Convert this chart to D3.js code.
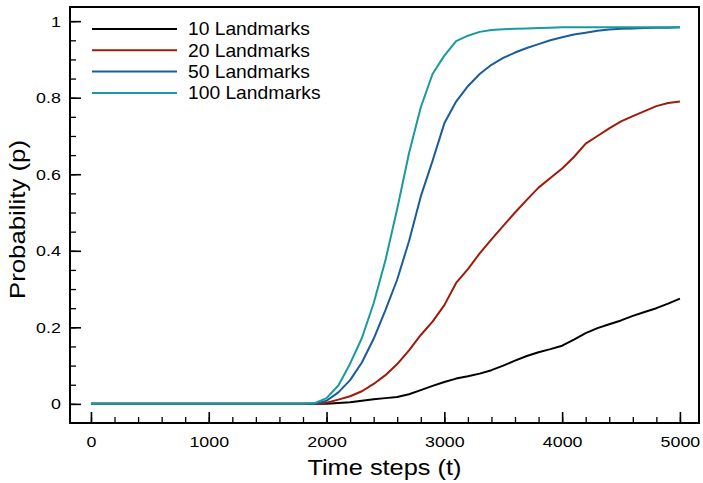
<!DOCTYPE html>
<html>
<head>
<meta charset="utf-8">
<script src="https://cdn.jsdelivr.net/npm/d3@7"></script>
<style>
    body { margin: 0; background: #fff; }
    svg text { font-family: "Liberation Sans", Arial, Helvetica, sans-serif; fill: #000; }
    .line { fill: none; stroke-width: 2; stroke-linejoin: round; }
</style>
</head>
<body>
<div id="graph"></div>
<script>
/*
    Probability vs time steps, one curve per landmark count
*/

// time steps, every 100
var steps = d3.range(0, 5001, 100)

var seriesNames = [ "10 Landmarks", "20 Landmarks", "50 Landmarks", "100 Landmarks" ]
var seriesColors = [ "#000000", "#a01a0a", "#1a5c9c", "#1a9a9a" ]

// values, t = 0 .. 5000 step 100
var zeros = [0,0,0,0,0, 0,0,0,0,0, 0,0,0,0,0, 0,0,0,0]   // t = 0 .. 1800

var p10 = zeros.concat([0, 0, 0.002, 0.004, 0.008, 0.012, 0.015, 0.018, 0.025, 0.036, 0.047,
    0.057, 0.066, 0.072, 0.079, 0.088, 0.100, 0.113, 0.125, 0.135, 0.143,
    0.152, 0.168, 0.185, 0.198, 0.208, 0.218, 0.230, 0.240, 0.250, 0.262, 0.275])

var p20 = zeros.concat([0, 0.003, 0.011, 0.020, 0.033, 0.052, 0.075, 0.104, 0.140, 0.180, 0.215,
    0.258, 0.316, 0.352, 0.393, 0.430, 0.465, 0.500, 0.533, 0.565, 0.590,
    0.615, 0.645, 0.680, 0.700, 0.720, 0.738, 0.752, 0.765, 0.778, 0.786, 0.790])

var p50 = zeros.concat([0, 0.008, 0.030, 0.062, 0.108, 0.170, 0.245, 0.325, 0.425, 0.542, 0.635,
    0.733, 0.790, 0.830, 0.862, 0.886, 0.904, 0.918, 0.930, 0.940, 0.950,
    0.958, 0.965, 0.970, 0.975, 0.978, 0.980, 0.981, 0.982, 0.983, 0.983, 0.984])

var p100 = zeros.concat([0.002, 0.015, 0.048, 0.105, 0.172, 0.263, 0.375, 0.510, 0.655, 0.775, 0.862,
    0.910, 0.948, 0.962, 0.972, 0.977, 0.979, 0.980, 0.981, 0.982, 0.983,
    0.984, 0.984, 0.984, 0.984, 0.984, 0.984, 0.984, 0.984, 0.984, 0.984, 0.984])

var seriesValues = [ p10, p20, p50, p100 ]

var xTicks = [0, 1000, 2000, 3000, 4000, 5000]
var yTicks = [0, 0.2, 0.4, 0.6, 0.8, 1]

/*
    Dimensions
*/
var margin = {top: 7, right: 4, bottom: 60, left: 70},
    width = 703 - margin.left - margin.right,
    height = 483 - margin.top - margin.bottom;

// picture text is wider than the font
var stretch = "scale(1.15,1)"

var svg = d3.select("#graph").append("svg")
            .attr("width", 703)
            .attr("height", 483)
            .append("g")
            .attr("transform", "translate(" + margin.left + "," + margin.top + ")");

var x = d3.scaleLinear()
          .domain([-178, 5162])
          .range([0, width]),
    y = d3.scaleLinear()
          .domain([-0.05, 1.037])
          .range([height, 0]);

// minor ticks first, no labels
svg.append("g")
    .attr("transform", "translate(0," + height + ")")
    .call(d3.axisBottom(x).tickValues(d3.range(0, 5001, 200)).tickSize(-6).tickFormat(""))
    .call(function (g) { g.select(".domain").remove() })
    .selectAll("line").attr("stroke-width", 1.3)

svg.append("g")
    .call(d3.axisLeft(y).tickValues(d3.range(0, 1.001, 0.05)).tickSize(-6).tickFormat(""))
    .call(function (g) { g.select(".domain").remove() })
    .selectAll("line").attr("stroke-width", 1.3)

// major ticks
var xAxis = svg.append("g")
    .attr("transform", "translate(0," + height + ")")
    .call(d3.axisBottom(x).tickValues(xTicks).tickSize(-11).tickPadding(13).tickFormat(d3.format("d")))
xAxis.select(".domain").remove()
xAxis.selectAll("line").attr("stroke-width", 1.6)
xAxis.selectAll("text")
    .style("font-size", "15.5px")
    .attr("transform", stretch)

var yAxis = svg.append("g")
    .call(d3.axisLeft(y).tickValues(yTicks).tickSize(-11).tickPadding(8)
        .tickFormat(function (d) { return d === 0 || d === 1 ? d : d.toFixed(1) }))
yAxis.select(".domain").remove()
yAxis.selectAll("line").attr("stroke-width", 1.6)
yAxis.selectAll("text")
    .style("font-size", "15.5px")
    .attr("transform", stretch)

// frame
svg.append("rect")
    .attr("width", width)
    .attr("height", height)
    .attr("fill", "none")
    .attr("stroke", "#000")
    .attr("stroke-width", 2)

// curves
var line = d3.line()
    .x(function (d, i) { return x(steps[i]) })
    .y(function (d) { return y(d) })

svg.selectAll(".line")
    .data(seriesValues)
    .enter()
    .append("path")
    .attr("class", "line")
    .attr("stroke", function (d, i) { return seriesColors[i] })
    .attr("d", line)

// legend
var legend = svg.selectAll(".legend")
    .data(seriesNames)
    .enter()
    .append("g")
    .attr("class", "legend")
    .attr("transform", function (d, i) { return "translate(22," + (22 + i * 21.3) + ")" })

legend.append("line")
    .attr("x1", 0).attr("x2", 85)
    .attr("stroke-width", 2)
    .attr("stroke", function (d, i) { return seriesColors[i] })

legend.append("text")
    .attr("transform", "translate(96,0) scale(1.1,1)")
    .attr("dy", "0.36em")
    .style("font-size", "17.5px")
    .text(function (d) { return d })

// axis titles
svg.append("text")
    .attr("transform", "translate(" + (x(2500) - 1) + "," + (height + 52) + ") scale(1.18,1)")
    .attr("text-anchor", "middle")
    .style("font-size", "21.5px")
    .text("Time steps (t)")

svg.append("text")
    .attr("transform", "translate(-45," + (y(0.5) + 7) + ") rotate(-90) scale(1.2,1)")
    .attr("text-anchor", "middle")
    .style("font-size", "21.5px")
    .text("Probability (p)")
</script>
</body>
</html>
